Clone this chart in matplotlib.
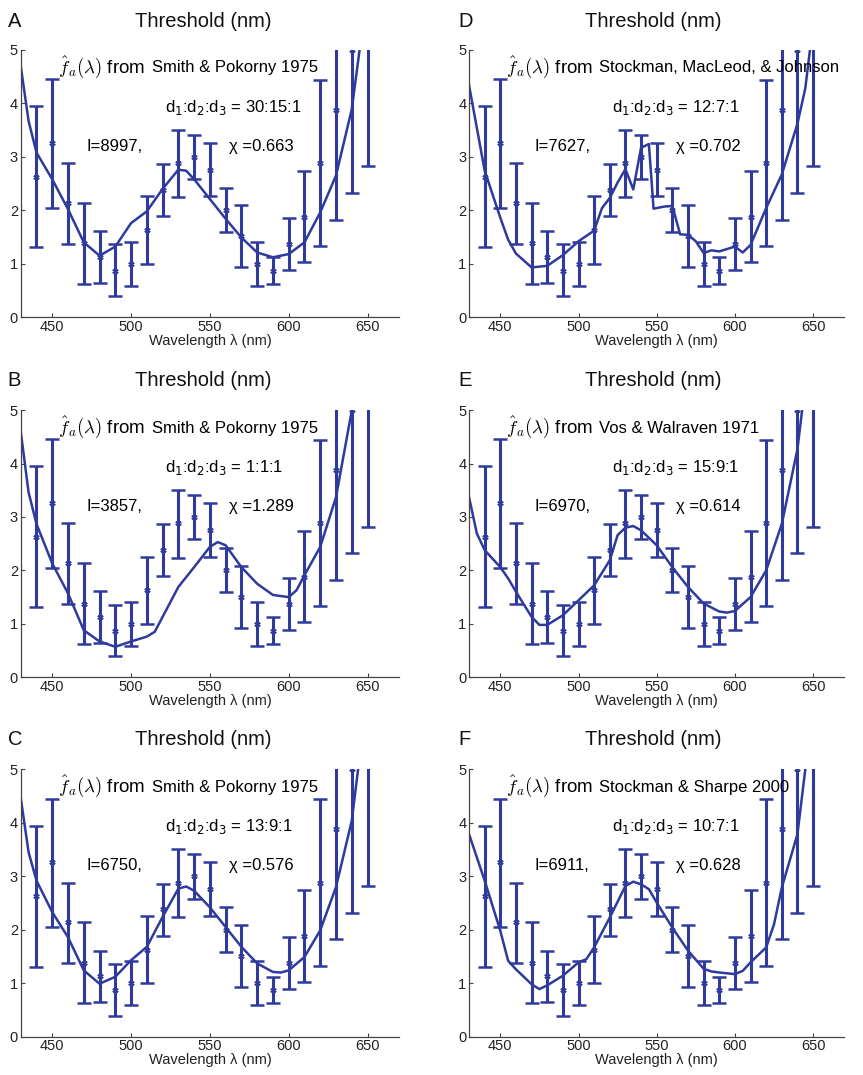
import numpy as np
import matplotlib
matplotlib.use("Agg")
import matplotlib.pyplot as plt

plt.rcParams['font.family'] = ['Liberation Sans', 'DejaVu Sans']
plt.rcParams['mathtext.fontset'] = 'cm'

BLUE = '#2e3a9c'

# measured thresholds (same in all panels)
wl = [440, 450, 460, 470, 480, 490, 500, 510, 520, 530, 540,
      550, 560, 570, 580, 590, 600, 610, 620, 630, 640, 650]
thr = [2.63, 3.26, 2.14, 1.38, 1.13, 0.87, 1.00, 1.63, 2.38, 2.88, 3.00,
       2.76, 2.00, 1.51, 1.00, 0.87, 1.37, 1.88, 2.88, 3.88, 5.00, 6.30]
thr_lo = [1.31, 2.05, 1.37, 0.62, 0.64, 0.39, 0.59, 1.00, 1.89, 2.24, 2.58,
          2.26, 1.59, 0.93, 0.59, 0.62, 0.89, 1.03, 1.33, 1.82, 2.32, 2.82]
thr_hi = [3.95, 4.45, 2.88, 2.14, 1.61, 1.36, 1.41, 2.26, 2.86, 3.51, 3.41,
          3.26, 2.42, 2.09, 1.41, 1.12, 1.86, 2.74, 4.44, 5.95, 7.70, 9.80]

# fitted curves
fitA_x = [430, 435, 440, 450, 460, 470, 480, 490, 500, 510, 520, 530, 535,
          540, 550, 560, 570, 580, 590, 600, 610, 620, 630, 640, 645]
fitA_y = [4.70, 3.67, 3.08, 2.58, 2.02, 1.40, 1.15, 1.32, 1.76, 1.98, 2.40, 2.76, 2.74,
          2.58, 2.21, 1.84, 1.49, 1.21, 1.12, 1.18, 1.40, 1.96, 2.65, 3.89, 5.01]

fitB_x = [430, 435, 440, 450, 460, 470, 480, 490, 500, 510, 515, 520, 530,
          540, 550, 555, 560, 570, 580, 590, 600, 605, 610, 620, 630, 640]
fitB_y = [4.60, 3.46, 2.87, 2.13, 1.57, 0.88, 0.67, 0.57, 0.67, 0.76, 0.85, 1.13, 1.69,
          2.06, 2.44, 2.53, 2.47, 2.06, 1.75, 1.54, 1.50, 1.63, 1.91, 2.44, 3.37, 4.99]

fitC_x = [430, 435, 440, 450, 460, 470, 480, 490, 500, 510, 520, 530, 535,
          540, 550, 560, 570, 580, 590, 595, 600, 610, 620, 630, 640, 644]
fitC_y = [4.47, 3.45, 2.92, 2.33, 1.86, 1.24, 0.99, 1.12, 1.43, 1.68, 2.24, 2.77, 2.81,
          2.73, 2.42, 2.05, 1.68, 1.37, 1.21, 1.20, 1.24, 1.49, 1.99, 2.80, 4.04, 5.00]

fitD_x = [430, 440, 450, 455, 460, 470, 480, 490, 500, 510, 515, 520, 525, 530, 535,
          540, 545, 548, 555, 560, 565, 570, 575, 580, 585, 590, 600, 605, 610,
          620, 630, 640, 645, 648]
fitD_y = [4.34, 2.74, 1.86, 1.45, 1.19, 0.93, 0.96, 1.16, 1.42, 1.62, 2.04, 2.23, 2.52, 2.77, 2.39,
          3.17, 3.24, 2.03, 2.07, 2.08, 1.55, 1.54, 1.42, 1.20, 1.25, 1.23, 1.32, 1.21, 1.35,
          2.04, 2.67, 3.62, 4.28, 5.00]

fitE_x = [430, 435, 440, 450, 455, 460, 470, 475, 480, 490, 500, 510, 520, 525, 530, 535,
          540, 550, 560, 570, 580, 590, 595, 600, 610, 620, 630, 640, 643]
fitE_y = [3.37, 2.69, 2.38, 2.06, 1.85, 1.60, 1.13, 0.98, 0.98, 1.16, 1.44, 1.72, 2.19, 2.66, 2.80, 2.83,
          2.75, 2.47, 2.06, 1.69, 1.38, 1.23, 1.21, 1.24, 1.50, 2.00, 2.87, 4.27, 5.00]

fitF_x = [430, 440, 450, 455, 460, 470, 475, 480, 490, 500, 505, 510, 520, 530, 535,
          540, 545, 550, 560, 570, 580, 585, 590, 600, 605, 610, 620, 625, 630, 640, 645]
fitF_y = [3.79, 2.92, 1.98, 1.42, 1.26, 0.98, 0.89, 0.96, 1.14, 1.39, 1.45, 1.67, 2.23, 2.82, 2.90,
          2.85, 2.76, 2.51, 2.04, 1.61, 1.27, 1.22, 1.20, 1.17, 1.23, 1.39, 1.67, 2.10, 2.79, 3.79, 5.00]

letters = ['A', 'B', 'C', 'D', 'E', 'F']
sources = ['Smith & Pokorny 1975', 'Smith & Pokorny 1975', 'Smith & Pokorny 1975',
           'Stockman, MacLeod, & Johnson', 'Vos & Walraven 1971', 'Stockman & Sharpe 2000']
ratios = ['30:15:1', '1:1:1', '13:9:1', '12:7:1', '15:9:1', '10:7:1']
I_vals = ['8997', '3857', '6750', '7627', '6970', '6911']
chi_vals = ['0.663', '1.289', '0.576', '0.702', '0.614', '0.628']
fits = [(fitA_x, fitA_y), (fitB_x, fitB_y), (fitC_x, fitC_y),
        (fitD_x, fitD_y), (fitE_x, fitE_y), (fitF_x, fitF_y)]

fig = plt.figure(figsize=(8.63, 10.75), dpi=100)

col_left = [0.024, 0.5435]
col_w = [0.4384, 0.4349]
row_bot = [0.705, 0.370, 0.0357]
row_h = 0.2485
title_y = [0.975, 0.641, 0.307]
title_x = [0.236, 0.757]
label_x = [0.009, 0.531]

wl = np.array(wl)
thr = np.array(thr)
yerr = np.vstack([thr - np.array(thr_lo), np.array(thr_hi) - thr])

for i in range(6):
    c, r = divmod(i, 3)
    ax = fig.add_axes([col_left[c], row_bot[r], col_w[c], row_h])
    ax.errorbar(wl, thr, yerr=yerr, fmt='none', ecolor=BLUE,
                elinewidth=2.2, capsize=5, capthick=1.8)
    # small asterisk markers at the means
    ax.plot(wl, thr, ls='none', marker=(6, 2, 0), ms=4.5, mew=1.0, color=BLUE)
    fx, fy = fits[i]
    ax.plot(fx, fy, color=BLUE, lw=1.8)

    ax.set_xlim(430, 670)
    ax.set_ylim(0, 5)
    ax.set_xticks([450, 500, 550, 600, 650])
    ax.set_yticks([0, 1, 2, 3, 4, 5])
    for s in ['top', 'right']:
        ax.spines[s].set_visible(False)
    for s in ['left', 'bottom']:
        ax.spines[s].set_color('#444444')
        ax.spines[s].set_linewidth(0.9)
    ax.tick_params(direction='in', length=3, width=0.8, colors='#444444',
                   labelcolor='#222222', labelsize=10.5, pad=2)
    ax.set_xlabel('Wavelength λ (nm)', fontsize=10.5, labelpad=0, color='#222222')

    ax.text(453.5, 4.58, r'$\hat{f}_a(\lambda)$ from', fontsize=13.5, va='baseline')
    ax.text(513, 4.58, sources[i], fontsize=12, va='baseline')
    ax.text(521.4, 3.84, 'd$_1$:d$_2$:d$_3$ = ' + ratios[i], fontsize=12,
            va='baseline', math_fontfamily='dejavusans')
    ax.text(471.6, 3.11, 'I=' + I_vals[i] + ',', fontsize=12, va='baseline')
    ax.text(562.4, 3.11, 'χ =' + chi_vals[i], fontsize=12, va='baseline')

    fig.text(title_x[c], title_y[r], 'Threshold (nm)', fontsize=14.5, ha='center',
             va='baseline', color='#111111')
    fig.text(label_x[c], title_y[r], letters[i], fontsize=14.5, va='baseline',
             color='#111111')

fig.savefig('out.png', dpi=100)
